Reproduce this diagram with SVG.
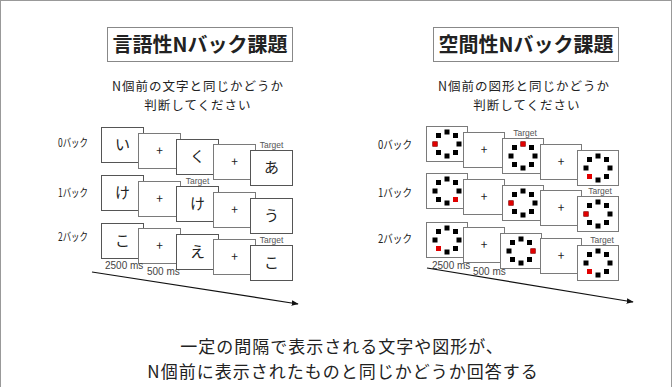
<svg xmlns="http://www.w3.org/2000/svg" xmlns:xlink="http://www.w3.org/1999/xlink" width="672" height="387" viewBox="0 0 672 387">
<style>
text{font-family:"Noto Sans CJK JP","Liberation Sans",sans-serif;fill:#222}
.title{font-size:20px;font-weight:bold;text-anchor:middle}
.sub{font-size:12.5px;letter-spacing:1px;text-anchor:middle}
.lbl{font-size:11.5px}
.box{fill:#fff;stroke:#7a7a7a;stroke-width:1}
.cbox{fill:#fff;stroke:#555;stroke-width:1}
.ch{font-size:15px;text-anchor:middle}
.plus{font-size:12px;text-anchor:middle}
.tgt{font-family:"Liberation Sans",sans-serif;font-size:8.5px;fill:#555;text-anchor:middle}
.ms{font-family:"Liberation Sans",sans-serif;font-size:10px;fill:#444}
.bottom{font-size:17px;letter-spacing:1px;text-anchor:middle}
.red{fill:#e00000}
.conn{stroke:#111;stroke-width:1.2;fill:none}
</style>
<defs>
<g id="ring" fill="#000">
<rect x="-2.5" y="-14.5" width="5" height="5"/>
<rect x="6" y="-11" width="5" height="5"/>
<rect x="9.5" y="-2.5" width="5" height="5"/>
<rect x="6" y="6" width="5" height="5"/>
<rect x="-2.5" y="9.5" width="5" height="5"/>
<rect x="-11" y="6" width="5" height="5"/>
<rect x="-14.5" y="-2.5" width="5" height="5"/>
<rect x="-11" y="-11" width="5" height="5"/>
</g>
<marker id="ah" viewBox="0 0 10 10" refX="9" refY="5" markerWidth="7" markerHeight="7" orient="auto" markerUnits="userSpaceOnUse">
<path d="M0,1 L10,5 L0,9 z" fill="#111"/>
</marker>
</defs>
<rect x="0.5" y="0.5" width="671" height="400" fill="#fff" stroke="#999"/>

<g id="verbal-title">
<rect x="107.5" y="27.5" width="185" height="34" fill="#fff" stroke="#888"/>
<text class="title" x="200" y="52">言語性Nバック課題</text>
</g>
<g id="verbal-instruction">
<text class="sub" x="198" y="91">N個前の文字と同じかどうか</text>
<text class="sub" x="198" y="110">判断してください</text>
</g>
<g id="spatial-title">
<rect x="433.5" y="27.5" width="185" height="34" fill="#fff" stroke="#888"/>
<text class="title" x="526" y="52">空間性Nバック課題</text>
</g>
<g id="spatial-instruction">
<text class="sub" x="524" y="91">N個前の図形と同じかどうか</text>
<text class="sub" x="527" y="110">判断してください</text>
</g>

<!-- Verbal rows -->
<g id="verbal-0back">
<text class="lbl" x="58" y="147" textLength="30" lengthAdjust="spacingAndGlyphs">0バック</text>
<rect class="cbox" x="101.5" y="127.5" width="42" height="35"/><text class="ch" x="122.5" y="150">い</text>
<rect class="box" x="138.5" y="133.5" width="42" height="35"/><text class="plus" x="159.5" y="155">+</text>
<rect class="cbox" x="176.5" y="139.5" width="42" height="35"/><text class="ch" x="197.5" y="162">く</text>
<rect class="box" x="213.5" y="144.5" width="42" height="35"/><text class="plus" x="234.5" y="166">+</text>
<rect class="cbox" x="250.5" y="150.5" width="42" height="35"/><text class="ch" x="271.5" y="173">あ</text>
<text class="tgt" x="271.5" y="148">Target</text>
</g>
<g id="verbal-1back">
<text class="lbl" x="58" y="197" textLength="30" lengthAdjust="spacingAndGlyphs">1バック</text>
<rect class="cbox" x="101.5" y="175.5" width="42" height="35"/><text class="ch" x="122.5" y="198">け</text>
<rect class="box" x="138.5" y="181.5" width="42" height="35"/><text class="plus" x="159.5" y="203">+</text>
<rect class="cbox" x="176.5" y="186.5" width="42" height="35"/><text class="ch" x="197.5" y="209">け</text>
<text class="tgt" x="197.5" y="184">Target</text>
<rect class="box" x="213.5" y="192.5" width="42" height="35"/><text class="plus" x="234.5" y="214">+</text>
<rect class="cbox" x="250.5" y="198.5" width="42" height="35"/><text class="ch" x="271.5" y="221">う</text>
</g>
<g id="verbal-2back">
<text class="lbl" x="58" y="241" textLength="30" lengthAdjust="spacingAndGlyphs">2バック</text>
<rect class="cbox" x="101.5" y="223.5" width="42" height="35"/><text class="ch" x="122.5" y="246">こ</text>
<rect class="box" x="138.5" y="228.5" width="42" height="35"/><text class="plus" x="159.5" y="250">+</text>
<rect class="cbox" x="176.5" y="234.5" width="42" height="35"/><text class="ch" x="197.5" y="257">え</text>
<rect class="box" x="213.5" y="239.5" width="42" height="35"/><text class="plus" x="234.5" y="261">+</text>
<rect class="cbox" x="250.5" y="245.5" width="42" height="35"/><text class="ch" x="271.5" y="268">こ</text>
<text class="tgt" x="271.5" y="243">Target</text>
<text class="ms" x="105" y="269">2500 ms</text>
<text class="ms" x="147" y="275">500 ms</text>
</g>

<!-- Spatial rows -->
<g id="spatial-0back">
<text class="lbl" x="378" y="149" textLength="34" lengthAdjust="spacingAndGlyphs">0バック</text>
<rect class="box" x="426.5" y="126.5" width="41" height="35"/><use xlink:href="#ring" href="#ring" x="447" y="144"/><rect class="red" x="432.5" y="141.5" width="5" height="5"/>
<rect class="box" x="463.5" y="132.5" width="41" height="35"/><text class="plus" x="484" y="154">+</text>
<rect class="box" x="502.5" y="138.5" width="41" height="35"/><use xlink:href="#ring" href="#ring" x="523" y="156"/><rect class="red" x="520.5" y="141.5" width="5" height="5"/>
<text class="tgt" x="525" y="136">Target</text>
<rect class="box" x="540.5" y="144.5" width="41" height="35"/><text class="plus" x="561" y="166">+</text>
<rect class="box" x="577.5" y="150.5" width="41" height="35"/><use xlink:href="#ring" href="#ring" x="598" y="168"/><rect class="red" x="587" y="174" width="5" height="5"/>
</g>
<g id="spatial-1back">
<text class="lbl" x="378" y="197" textLength="34" lengthAdjust="spacingAndGlyphs">1バック</text>
<rect class="box" x="426.5" y="173.5" width="41" height="35"/><use xlink:href="#ring" href="#ring" x="447" y="191"/><rect class="red" x="453" y="197" width="5" height="5"/>
<rect class="box" x="463.5" y="179.5" width="41" height="35"/><text class="plus" x="484" y="201">+</text>
<rect class="box" x="502.5" y="185.5" width="41" height="35"/><use xlink:href="#ring" href="#ring" x="523" y="203"/><rect class="red" x="508.5" y="200.5" width="5" height="5"/>
<rect class="box" x="540.5" y="190.5" width="41" height="35"/><text class="plus" x="561" y="212">+</text>
<rect class="box" x="577.5" y="196.5" width="41" height="35"/><use xlink:href="#ring" href="#ring" x="598" y="214"/><rect class="red" x="583.5" y="211.5" width="5" height="5"/>
<text class="tgt" x="600" y="194">Target</text>
</g>
<g id="spatial-2back">
<text class="lbl" x="378" y="243" textLength="34" lengthAdjust="spacingAndGlyphs">2バック</text>
<rect class="box" x="426.5" y="222.5" width="41" height="35"/><use xlink:href="#ring" href="#ring" x="447" y="240"/><rect class="red" x="436" y="246" width="5" height="5"/>
<rect class="box" x="463.5" y="227.5" width="41" height="35"/><text class="plus" x="484" y="249">+</text>
<rect class="box" x="500.5" y="233.5" width="41" height="35"/><use xlink:href="#ring" href="#ring" x="521" y="251"/><rect class="red" x="530.5" y="248.5" width="5" height="5"/>
<rect class="box" x="540.5" y="238.5" width="41" height="35"/><text class="plus" x="561" y="260">+</text>
<rect class="box" x="577.5" y="245.5" width="41" height="35"/><use xlink:href="#ring" href="#ring" x="598" y="263"/><rect class="red" x="587" y="269" width="5" height="5"/>
<text class="tgt" x="602" y="243">Target</text>
<text class="ms" x="432" y="269">2500 ms</text>
<text class="ms" x="473" y="275">500 ms</text>
</g>

<g id="connectors">
<line class="conn" x1="92" y1="272" x2="298" y2="304" marker-end="url(#ah)"/>
<line class="conn" x1="427" y1="268" x2="633" y2="302" marker-end="url(#ah)"/>
</g>

<g id="summary">
<text class="bottom" x="342" y="353">一定の間隔で表示される文字や図形が、</text>
<text class="bottom" x="343" y="378">N個前に表示されたものと同じかどうか回答する</text>
</g>
</svg>
